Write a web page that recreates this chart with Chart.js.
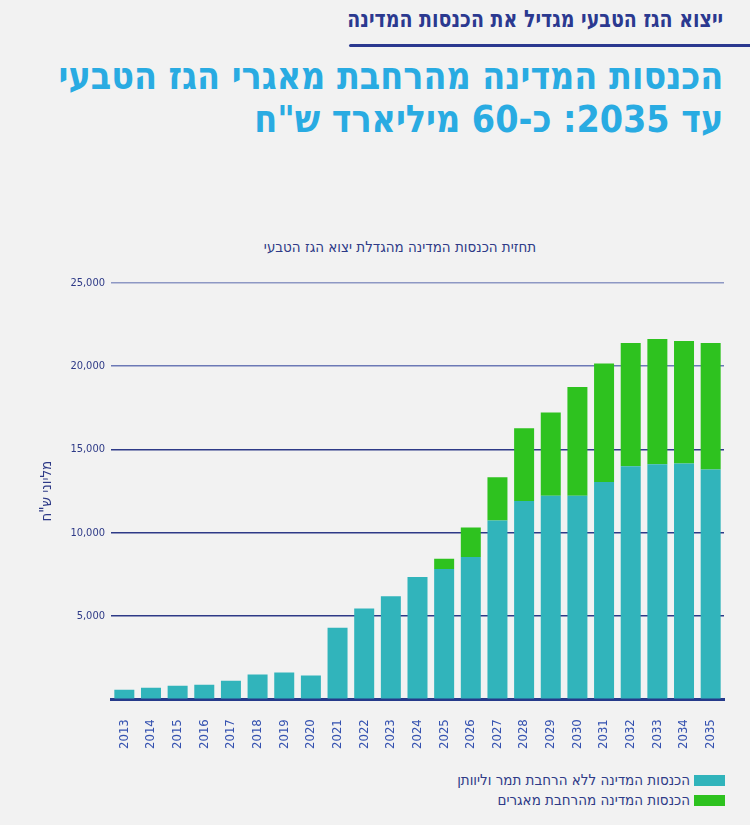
<!DOCTYPE html>
<html lang="he">
<head>
<meta charset="utf-8">
<script src="https://cdn.jsdelivr.net/npm/chart.js@4.4.1/dist/chart.umd.min.js"></script>
<style>
    body {
        margin: 0;
        background: #f2f2f2;
        width: 750px;
        height: 825px;
        position: relative;
        overflow: hidden;
        font-family: "DejaVu Sans Condensed", sans-serif;
    }
    .kicker {
        position: absolute;
        right: 27px;
        top: 5px;
        direction: rtl;
        font: bold 24px "DejaVu Sans Condensed", sans-serif;
        color: #2b3990;
        white-space: nowrap;
        transform: scaleX(0.88);
        transform-origin: right top;
    }
    .kicker-line {
        position: absolute;
        left: 349px;
        top: 44px;
        width: 410px;
        height: 3px;
        background: #2b3990;
        border-radius: 2px;
    }
    .headline {
        position: absolute;
        right: 27px;
        top: 55px;
        direction: rtl;
        text-align: right;
        font: bold 38px/43px "DejaVu Sans Condensed", sans-serif;
        color: #29abe2;
        white-space: nowrap;
        transform: scaleX(0.98);
        transform-origin: right top;
    }
    .subtitle {
        position: absolute;
        left: 0;
        width: 800px;
        top: 238px;
        text-align: center;
        direction: rtl;
        font-size: 15px;
        color: #2e3a87;
    }
    .chart-box {
        position: absolute;
        left: 0;
        top: 237px;
        width: 750px;
        height: 532px;
    }
    .legend {
        position: absolute;
        right: 25px;
        top: 770px;
        direction: rtl;
        font-size: 15px;
        color: #2e3a87;
    }
    .legend div {
        display: flex;
        align-items: center;
        height: 20px;
    }
    .legend span.box {
        display: inline-block;
        width: 31px;
        height: 11px;
        margin-left: 4px;
    }
</style>
</head>
<body>
<div class="kicker">ייצוא הגז הטבעי מגדיל את הכנסות המדינה</div>
<div class="kicker-line"></div>
<div class="headline">הכנסות המדינה מהרחבת מאגרי הגז הטבעי<br>עד 2035: כ-60 מיליארד ש"ח</div>
<div class="subtitle">תחזית הכנסות המדינה מהגדלת יצוא הגז הטבעי</div>
<div class="chart-box" dir="rtl"><canvas id="gasChart"></canvas></div>
<div class="legend" id="legend"></div>

<script>
// Data (million NIS)
const years = ['2013', '2014', '2015', '2016', '2017', '2018', '2019', '2020', '2021', '2022', '2023', '2024',
    '2025', '2026', '2027', '2028', '2029', '2030', '2031', '2032', '2033', '2034', '2035'];
const baseRevenue = [570, 690, 810, 870, 1110, 1480, 1600, 1420, 4290, 5450, 6180, 7340,
    7820, 8550, 10730, 11910, 12220, 12220, 13050, 14000, 14120, 14160, 13800];
const expansionRevenue = [0, 0, 0, 0, 0, 0, 0, 0, 0, 0, 0, 0,
    620, 1760, 2600, 4370, 5000, 6530, 7120, 7390, 7520, 7360, 7590];
const yTicks = [5000, 10000, 15000, 20000, 25000];

const seriesNames = ['הכנסות המדינה ללא הרחבת תמר וליוותן', 'הכנסות המדינה מהרחבת מאגרים'];
const seriesColors = ['#31b4bb', '#2ec21f'];

document.addEventListener('DOMContentLoaded', () => {
    const ctx = document.getElementById('gasChart').getContext('2d');
    const navy = '#2e3a87';
    const narrow = '"DejaVu Sans Condensed", sans-serif';

    new Chart(ctx, {
        type: 'bar',
        data: {
            labels: years,
            datasets: [{
                label: seriesNames[0],
                data: baseRevenue,
                backgroundColor: seriesColors[0],
                borderWidth: 0,
                barPercentage: 0.75,
                categoryPercentage: 1
            }, {
                label: seriesNames[1],
                data: expansionRevenue,
                backgroundColor: seriesColors[1],
                borderWidth: 0,
                barPercentage: 0.75,
                categoryPercentage: 1
            }]
        },
        options: {
            responsive: true,
            maintainAspectRatio: false,
            animation: false,
            layout: {
                padding: { left: 0, right: 26, top: 46, bottom: 8 }
            },
            plugins: {
                legend: { display: false },
                tooltip: { enabled: false }
            },
            scales: {
                x: {
                    stacked: true,
                    grid: { display: false },
                    border: { color: '#263a8a', width: 3 },
                    ticks: {
                        color: '#3552b0',
                        font: { family: narrow, size: 13 },
                        minRotation: 90,
                        maxRotation: 90,
                        padding: 12,
                        autoSkip: false
                    }
                },
                y: {
                    stacked: true,
                    min: 0,
                    max: 25000,
                    afterFit: scale => { scale.width = 111; },
                    afterBuildTicks: scale => {
                        scale.ticks = [{ value: 0 }].concat(yTicks.map(v => ({ value: v })));
                    },
                    border: { display: false },
                    grid: {
                        drawTicks: false,
                        lineWidth: 1.5,
                        color: c => {
                            if (c.tick.value === 25000) return '#8e98c4';
                            if (c.tick.value === 20000) return '#6c79b6';
                            return navy;
                        }
                    },
                    ticks: {
                        color: navy,
                        padding: 6,
                        font: { family: narrow, size: 11 },
                        callback: value => value === 0 ? '' : value.toLocaleString('en-US')
                    },
                    title: {
                        display: true,
                        text: 'מליוני ש"ח',
                        color: navy,
                        font: { family: narrow, size: 15 },
                        padding: { top: 38, bottom: 0 }
                    }
                }
            }
        }
    });

    // Legend (RTL, swatch on the right)
    const legend = document.getElementById('legend');
    seriesNames.forEach((name, i) => {
        const row = document.createElement('div');
        row.innerHTML = `<span class="box" style="background:${seriesColors[i]}"></span><span>${name}</span>`;
        legend.appendChild(row);
    });
});
</script>
</body>
</html>
